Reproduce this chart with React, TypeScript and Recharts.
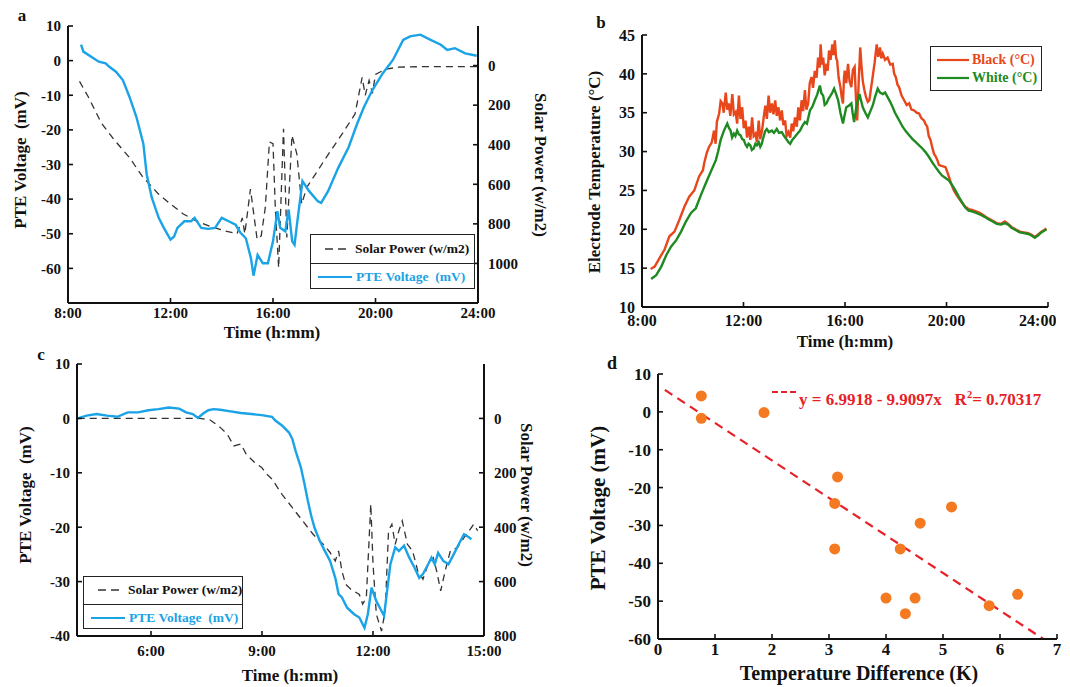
import { ComposedChart, Line, Scatter, XAxis, YAxis } from "recharts";

const SERIF = "'Liberation Serif', 'Times New Roman', serif";
const BLUE = "#1AA3E6";
const DASH = "#333333";
const ORANGE = "#E8471C";
const GREEN = "#1F8A22";
const DOT = "#F47920";
const RED = "#E62228";

// panel a: PTE voltage vs solar power, 8:00 - 24:00
const aPteTime = [8.51, 8.6, 9.2, 9.47, 9.6, 9.87, 10.14, 10.4, 10.67, 10.94, 11.07, 11.27, 11.54, 11.74, 12.0, 12.14, 12.27, 12.54, 12.8, 12.94, 13.2, 13.47, 13.74, 14.0, 14.27, 14.54, 14.74, 14.94, 15.14, 15.24, 15.4, 15.6, 15.8, 16.0, 16.17, 16.28, 16.48, 16.61, 16.75, 16.84, 16.95, 17.15, 17.41, 17.75, 17.88, 18.15, 18.55, 18.95, 19.28, 19.55, 19.88, 20.28, 20.68, 21.08, 21.35, 21.75, 22.15, 22.55, 22.8, 23.1, 23.5, 23.95];
const aPte = [4.6, 2.6, -0.3, -0.8, -1.7, -3.2, -5.6, -10.5, -16.3, -24, -32.8, -39.6, -45.4, -48.3, -51.7, -50.8, -48.3, -46.4, -46.4, -45.4, -48.3, -48.6, -48.3, -45.4, -46.4, -47.4, -49.8, -51.3, -57.1, -62.1, -56.1, -58.5, -58.5, -52.2, -43.5, -48.3, -49.3, -43, -52.2, -53.2, -46.4, -34.8, -37.7, -40.6, -41.1, -37.7, -30.9, -25, -18.3, -13.4, -8.5, -3.7, 0.2, 6, 7, 7.5, 6, 4.6, 3.1, 3.6, 2.1, 1.4];
const aSolarTime = [8.45, 8.8, 9.3, 9.8, 10.4, 10.9, 11.5, 12.0, 12.5, 13.0, 13.6, 14.1, 14.6, 14.8, 14.9, 15.12, 15.25, 15.38, 15.54, 15.7, 15.86, 16.0, 16.09, 16.22, 16.41, 16.54, 16.74, 16.93, 17.12, 17.32, 17.7, 18.15, 18.7, 19.2, 19.48, 19.6, 19.75, 19.88, 20.0, 20.4, 20.9, 22, 24];
const aSolar = [80, 160, 290, 375, 465, 560, 645, 700, 750, 785, 815, 835, 850, 770, 850, 624, 751, 878, 861, 717, 386, 395, 717, 1022, 319, 869, 353, 446, 700, 615, 540, 450, 345, 245, 60, 150, 75, 140, 45, 18, 8, 5, 5];

// panel b: electrode temperatures
const bBlackTime = [8.34, 8.5, 8.69, 8.89, 9.08, 9.28, 9.47, 9.67, 9.86, 10.06, 10.25, 10.4, 10.45, 10.55, 10.64, 10.75, 10.84, 10.9, 10.95, 11.04, 11.1, 11.17, 11.22, 11.3, 11.36, 11.42, 11.48, 11.56, 11.62, 11.69, 11.75, 11.82, 11.88, 11.95, 12.01, 12.08, 12.14, 12.21, 12.27, 12.34, 12.4, 12.47, 12.53, 12.6, 12.66, 12.73, 12.8, 12.86, 12.92, 12.99, 13.05, 13.12, 13.18, 13.25, 13.31, 13.38, 13.44, 13.51, 13.57, 13.64, 13.7, 13.77, 13.84, 13.9, 13.96, 14.03, 14.1, 14.16, 14.22, 14.29, 14.35, 14.42, 14.48, 14.55, 14.61, 14.68, 14.74, 14.81, 14.88, 14.94, 15.0, 15.04, 15.09, 15.14, 15.2, 15.27, 15.32, 15.37, 15.43, 15.5, 15.55, 15.6, 15.65, 15.69, 15.75, 15.82, 15.87, 15.92, 15.96, 15.99, 16.05, 16.12, 16.18, 16.25, 16.31, 16.38, 16.43, 16.48, 16.54, 16.6, 16.65, 16.7, 16.76, 16.83, 16.9, 16.96, 17.02, 17.09, 17.17, 17.25, 17.31, 17.38, 17.43, 17.49, 17.58, 17.68, 17.78, 17.88, 17.94, 18.0, 18.07, 18.13, 18.23, 18.33, 18.43, 18.53, 18.62, 18.72, 18.82, 18.92, 19.01, 19.11, 19.18, 19.24, 19.3, 19.37, 19.44, 19.51, 19.57, 19.64, 19.7, 19.77, 19.87, 19.96, 20.03, 20.09, 20.19, 20.29, 20.38, 20.48, 20.61, 20.74, 20.87, 21.0, 21.17, 21.33, 21.5, 21.65, 21.82, 21.98, 22.15, 22.3, 22.43, 22.56, 22.72, 22.89, 23.05, 23.22, 23.35, 23.48, 23.6, 23.74, 23.85, 23.94];
const bBlack = [14.9, 15.2, 16.3, 17.4, 19.1, 19.7, 21.2, 22.9, 24.2, 25.0, 26.8, 27.6, 28.5, 29.8, 30.6, 31.2, 32.7, 31.0, 33.8, 34.9, 36.5, 36.2, 35.0, 37.6, 35.4, 36.2, 34.6, 37.4, 34.8, 35.1, 33.6, 37.2, 34.2, 35.7, 33.0, 34.0, 31.8, 33.2, 31.5, 34.4, 32.0, 32.3, 31.2, 34.0, 31.6, 32.7, 34.5, 35.9, 34.2, 37.2, 35.0, 36.2, 34.8, 36.6, 34.6, 35.7, 34.0, 35.3, 33.4, 34.0, 32.0, 32.5, 31.8, 33.6, 32.6, 34.4, 33.2, 35.7, 34.0, 36.6, 35.2, 37.9, 35.4, 36.2, 38.8, 39.6, 38.2, 40.4, 39.5, 42.1, 40.8, 43.8, 41.2, 42.1, 39.8, 41.3, 40.4, 43.0, 41.8, 43.8, 42.4, 44.3, 42.0, 41.7, 39.5, 38.3, 37.0, 36.2, 39.5, 40.4, 38.8, 41.3, 39.0, 38.3, 40.5, 40.9, 37.0, 34.0, 39.0, 43.4, 41.0, 39.1, 38.0, 37.0, 36.4, 36.6, 38.0, 39.6, 41.5, 43.8, 42.2, 43.4, 42.0, 42.6, 41.8, 42.1, 41.2, 41.3, 40.0, 39.6, 38.6, 38.3, 37.2, 36.6, 36.0, 36.2, 35.4, 35.3, 35.0, 34.9, 34.3, 34.0, 33.5, 33.2, 32.0, 31.5, 30.5, 29.7, 29.4, 28.9, 28.3, 28.2, 28.1, 28.0, 27.4, 26.8, 25.8, 25.0, 24.5, 24.0, 23.4, 22.9, 22.6, 22.5, 22.3, 22.1, 21.7, 21.4, 21.1, 20.8, 20.7, 21.0, 20.7, 20.3, 20.0, 19.7, 19.6, 19.5, 19.3, 19.0, 19.3, 19.7, 19.9, 20.1];
const bWhiteTime = [8.36, 8.56, 8.76, 8.96, 9.15, 9.35, 9.54, 9.73, 9.93, 10.12, 10.32, 10.51, 10.71, 10.91, 11.0, 11.1, 11.23, 11.36, 11.43, 11.49, 11.55, 11.62, 11.68, 11.75, 11.82, 11.88, 11.95, 12.01, 12.08, 12.14, 12.2, 12.27, 12.33, 12.4, 12.47, 12.53, 12.6, 12.66, 12.72, 12.79, 12.85, 12.92, 13.0, 13.12, 13.2, 13.31, 13.4, 13.51, 13.6, 13.71, 13.77, 13.84, 13.92, 14.03, 14.12, 14.23, 14.32, 14.42, 14.5, 14.62, 14.72, 14.81, 14.9, 15.01, 15.07, 15.14, 15.2, 15.27, 15.35, 15.43, 15.5, 15.57, 15.65, 15.73, 15.82, 15.92, 15.98, 16.05, 16.15, 16.25, 16.3, 16.36, 16.45, 16.57, 16.63, 16.7, 16.8, 16.9, 17.0, 17.09, 17.2, 17.29, 17.38, 17.49, 17.58, 17.68, 17.78, 17.88, 17.97, 18.07, 18.17, 18.27, 18.4, 18.53, 18.66, 18.79, 18.92, 19.05, 19.18, 19.31, 19.44, 19.57, 19.7, 19.83, 19.96, 20.09, 20.22, 20.35, 20.48, 20.61, 20.74, 20.87, 21.0, 21.17, 21.33, 21.5, 21.65, 21.82, 21.98, 22.15, 22.3, 22.43, 22.56, 22.72, 22.89, 23.05, 23.22, 23.35, 23.48, 23.6, 23.74, 23.85, 23.94];
const bWhite = [13.6, 14.1, 15.2, 16.7, 17.8, 18.6, 19.7, 21.0, 22.1, 22.7, 24.4, 25.9, 27.4, 28.9, 30.0, 31.5, 32.7, 33.6, 33.0, 32.7, 31.8, 32.3, 32.0, 32.7, 32.2, 32.1, 31.6, 31.5, 30.9, 30.6, 31.0, 30.8, 30.2, 30.4, 31.0, 30.8, 31.2, 30.6, 31.0, 31.9, 32.6, 32.9, 32.5, 32.7, 32.4, 32.9, 32.4, 32.5, 32.0, 31.5, 31.2, 31.0, 31.5, 31.9, 32.3, 32.7, 33.3, 33.8, 33.6, 35.3, 35.8, 36.6, 37.3, 38.5, 37.5, 37.2, 36.0, 36.2, 36.8, 37.2, 37.6, 38.1, 37.4, 36.6, 35.0, 33.6, 34.6, 35.7, 35.9, 36.2, 35.0, 33.8, 35.8, 37.4, 36.6, 35.7, 35.0, 34.4, 35.2, 35.9, 37.2, 38.1, 37.6, 37.4, 37.6, 37.0, 36.4, 35.7, 35.0, 34.4, 33.8, 33.2, 32.6, 32.1, 31.6, 31.2, 30.8, 30.4, 29.9, 29.3, 28.6, 28.0, 27.4, 26.9, 26.6, 26.3, 25.7, 25.0, 24.2, 23.5, 22.8, 22.4, 22.3, 22.1, 21.9, 21.6, 21.3, 21.0, 20.7, 20.6, 20.8, 20.6, 20.2, 19.9, 19.6, 19.5, 19.4, 19.2, 18.9, 19.2, 19.6, 19.8, 20.0];

// panel c: PTE voltage vs solar power, 4:00 - 15:00
const cPteTime = [4.02, 4.26, 4.53, 4.81, 5.09, 5.37, 5.65, 5.93, 6.2, 6.48, 6.76, 6.95, 7.13, 7.27, 7.41, 7.55, 7.69, 7.87, 8.15, 8.43, 8.71, 8.99, 9.27, 9.36, 9.54, 9.73, 9.82, 9.91, 10.05, 10.15, 10.24, 10.33, 10.42, 10.56, 10.7, 10.84, 10.98, 11.07, 11.16, 11.3, 11.49, 11.63, 11.77, 11.86, 11.96, 12.09, 12.23, 12.3, 12.37, 12.47, 12.6, 12.7, 12.84, 12.98, 13.12, 13.25, 13.35, 13.49, 13.58, 13.67, 13.76, 13.9, 14.04, 14.18, 14.32, 14.46, 14.6, 14.66];
const cPte = [0, 0.5, 0.8, 0.5, 0.3, 1.1, 1.1, 1.5, 1.7, 2.0, 1.8, 1.1, 0.8, 0.1, 0.9, 1.5, 1.7, 1.6, 1.3, 1.0, 0.8, 0.6, 0.3, -0.4, -1.3, -2.6, -3.8, -6.0, -9.0, -12.1, -15.2, -17.9, -20.1, -22.5, -24.4, -26.2, -29.3, -32.3, -32.9, -34.8, -36.0, -36.6, -38.5, -36.0, -31.1, -33.6, -35.4, -36.3, -32.3, -26.8, -23.7, -24.4, -23.4, -25.6, -27.4, -29.3, -28.6, -26.8, -25.6, -26.8, -24.7, -26.2, -26.8, -25.0, -23.1, -21.3, -21.9, -22.2];
const cSolarTime = [4.02, 7.32, 7.6, 7.87, 8.06, 8.24, 8.43, 8.57, 8.8, 8.99, 9.13, 9.27, 9.54, 9.82, 10.1, 10.38, 10.66, 10.84, 10.98, 11.07, 11.16, 11.26, 11.4, 11.63, 11.72, 11.82, 11.94, 12.0, 12.09, 12.23, 12.33, 12.42, 12.51, 12.6, 12.7, 12.79, 12.93, 13.07, 13.21, 13.35, 13.49, 13.63, 13.72, 13.83, 13.95, 14.09, 14.28, 14.46, 14.6, 14.72, 14.83];
const cSolar = [0, 0, 6, 33, 58, 101, 94, 131, 162, 180, 205, 223, 279, 328, 377, 426, 463, 493, 524, 487, 561, 610, 628, 647, 683, 659, 315, 534, 720, 782, 708, 413, 389, 463, 413, 377, 463, 487, 561, 591, 536, 512, 561, 634, 561, 487, 475, 438, 413, 389, 413];

// panel d: PTE voltage vs temperature difference
const dDiff = [0.76, 0.76, 1.86, 3.15, 3.1, 3.1, 5.15, 4.6, 4.25, 4.0, 4.51, 4.34, 5.81, 6.31];
const dPte = [4.2, -1.7, -0.2, -17.2, -24.2, -36.2, -25.1, -29.4, -36.2, -49.2, -49.2, -53.3, -51.2, -48.2];
const fitIntercept = 6.9918;
const fitSlope = -9.9097;
const fitRange = [0.12, 6.76];

const aPteData = aPteTime.map((t, i) => ({ t, v: aPte[i] }));
const aSolarData = aSolarTime.map((t, i) => ({ t, w: aSolar[i] }));
const bBlackData = bBlackTime.map((t, i) => ({ t, v: bBlack[i] }));
const bWhiteData = bWhiteTime.map((t, i) => ({ t, v: bWhite[i] }));
const cPteData = cPteTime.map((t, i) => ({ t, v: cPte[i] }));
const cSolarData = cSolarTime.map((t, i) => ({ t, w: cSolar[i] }));
const dPoints = dDiff.map((x, i) => ({ x, y: dPte[i] }));
const dFit = fitRange.map((x) => ({ x, y: fitIntercept + fitSlope * x }));

const hm = (v: number) => `${v}:00`;
const tickFont = (size: number) => ({ fontFamily: SERIF, fontWeight: 700, fontSize: size, fill: "#111" });
const frame = { stroke: "#111", strokeWidth: 2 };
const tickLn = { stroke: "#111", strokeWidth: 1.6 };

function Txt({ x, y, rot = 0, size = 17, color = "#111", children }: any) {
  return (
    <div
      style={{
        position: "absolute",
        left: x,
        top: y,
        transform: `translate(-50%, -50%) rotate(${rot}deg)`,
        fontFamily: SERIF,
        fontWeight: 700,
        fontSize: size,
        color,
        whiteSpace: "pre",
        lineHeight: 1,
      }}
    >
      {children}
    </div>
  );
}

function Sample({ color, dash, w = 34 }: any) {
  return (
    <svg width={w} height={6} style={{ display: "block", flex: "none" }}>
      <line x1={0} y1={3} x2={w} y2={3} stroke={color} strokeWidth={dash ? 1.4 : 2.2} strokeDasharray={dash} />
    </svg>
  );
}

function DualLegend({ x, y, w, h }: any) {
  const row = { display: "flex", alignItems: "center", height: h / 2, paddingLeft: 7, gap: 4, whiteSpace: "pre" as const };
  return (
    <div style={{ position: "absolute", left: x, top: y, width: w, height: h, border: "1.5px solid #222", background: "#fff", fontFamily: SERIF, fontWeight: 700, fontSize: 13.5, boxSizing: "border-box" }}>
      <div style={{ ...row, borderBottom: "1.5px solid #222", paddingLeft: 14 }}>
        <Sample color={DASH} dash="8 5" w={26} />
        <span style={{ color: "#111" }}>Solar Power (w/m2)</span>
      </div>
      <div style={row}>
        <Sample color={BLUE} w={34} />
        <span style={{ color: BLUE }}>PTE Voltage  (mV)</span>
      </div>
    </div>
  );
}

function DualPanel({ left, top, plotW, plotH, xDomain, xTicks, xMargin, yDomain, yTicks, wDomain, wTicks, pte, solar }: any) {
  return (
    <div style={{ position: "absolute", left, top }}>
      <ComposedChart width={60 + plotW + 60} height={10 + plotH + 40} margin={{ top: 10, right: 0, bottom: 0, left: 0 }}>
        <XAxis xAxisId="b" type="number" dataKey="t" domain={xDomain} ticks={xTicks} tickFormatter={hm} height={40} tickSize={-5} tickMargin={xMargin} axisLine={frame} tickLine={tickLn} tick={tickFont(15)} allowDataOverflow />
        <XAxis xAxisId="top" orientation="top" type="number" dataKey="t" domain={xDomain} ticks={xTicks} height={0} tickSize={-5} tick={false} axisLine={frame} tickLine={tickLn} allowDataOverflow />
        <YAxis yAxisId="l" type="number" domain={yDomain} ticks={yTicks} width={60} tickSize={-5} tickMargin={12} axisLine={frame} tickLine={tickLn} tick={tickFont(15)} allowDataOverflow />
        <YAxis yAxisId="r" orientation="right" type="number" reversed domain={wDomain} ticks={wTicks} width={60} tickSize={-5} tickMargin={15} axisLine={frame} tickLine={tickLn} tick={{ ...tickFont(15), textAnchor: "start" }} allowDataOverflow />
        <Line xAxisId="b" yAxisId="r" data={solar} dataKey="w" stroke={DASH} strokeWidth={1.3} strokeDasharray="7 5" dot={false} isAnimationActive={false} />
        <Line xAxisId="b" yAxisId="l" data={pte} dataKey="v" stroke={BLUE} strokeWidth={2.4} dot={false} isAnimationActive={false} />
      </ComposedChart>
    </div>
  );
}

function TempPanel() {
  return (
    <div style={{ position: "absolute", left: 582, top: 25 }}>
      <ComposedChart width={60 + 406 + 8} height={10 + 272 + 40} margin={{ top: 10, right: 8, bottom: 0, left: 0 }}>
        <XAxis xAxisId="b" type="number" dataKey="t" domain={[8, 24]} ticks={[8, 12, 16, 20, 24]} tickFormatter={hm} height={40} tickSize={-5} tickMargin={13} axisLine={frame} tickLine={tickLn} tick={tickFont(16)} allowDataOverflow />
        <XAxis xAxisId="top" orientation="top" type="number" dataKey="t" domain={[8, 24]} ticks={[8, 12, 16, 20, 24]} height={0} tickSize={-5} tick={false} axisLine={frame} tickLine={tickLn} allowDataOverflow />
        <YAxis yAxisId="l" type="number" domain={[10, 45]} ticks={[10, 15, 20, 25, 30, 35, 40, 45]} width={60} tickSize={-5} tickMargin={12} axisLine={frame} tickLine={tickLn} tick={tickFont(16)} allowDataOverflow />
        <YAxis yAxisId="r" orientation="right" type="number" domain={[10, 45]} ticks={[10, 15, 20, 25, 30, 35, 40, 45]} width={0} tickSize={-5} tick={false} axisLine={frame} tickLine={tickLn} allowDataOverflow />
        <Line xAxisId="b" yAxisId="l" data={bBlackData} dataKey="v" stroke={ORANGE} strokeWidth={2.4} dot={false} isAnimationActive={false} />
        <Line xAxisId="b" yAxisId="l" data={bWhiteData} dataKey="v" stroke={GREEN} strokeWidth={2.4} dot={false} isAnimationActive={false} />
      </ComposedChart>
    </div>
  );
}

function ScatterPanel() {
  const xt = [0, 1, 2, 3, 4, 5, 6, 7];
  const yt = [-60, -50, -40, -30, -20, -10, 0, 10];
  return (
    <div style={{ position: "absolute", left: 598, top: 364 }}>
      <ComposedChart width={60 + 399 + 8} height={10 + 265 + 40} margin={{ top: 10, right: 8, bottom: 0, left: 0 }}>
        <XAxis xAxisId="b" type="number" dataKey="x" domain={[0, 7]} ticks={xt} height={40} tickSize={-5} tickMargin={9} axisLine={frame} tickLine={tickLn} tick={tickFont(17)} allowDataOverflow />
        <XAxis xAxisId="top" orientation="top" type="number" dataKey="x" domain={[0, 7]} ticks={xt} height={0} tickSize={-5} tick={false} axisLine={frame} tickLine={tickLn} allowDataOverflow />
        <YAxis yAxisId="l" type="number" dataKey="y" domain={[-60, 10]} ticks={yt} width={60} tickSize={-5} tickMargin={12} axisLine={frame} tickLine={tickLn} tick={tickFont(17)} allowDataOverflow />
        <YAxis yAxisId="r" orientation="right" type="number" domain={[-60, 10]} ticks={yt} width={0} tickSize={-5} tick={false} axisLine={frame} tickLine={tickLn} allowDataOverflow />
        <Line xAxisId="b" yAxisId="l" data={dFit} dataKey="y" stroke={RED} strokeWidth={2.2} strokeDasharray="9 6" dot={false} isAnimationActive={false} />
        <Scatter xAxisId="b" yAxisId="l" data={dPoints} dataKey="y" fill={DOT} shape={(p: any) => <circle cx={p.cx} cy={p.cy} r={5.5} fill={DOT} />} isAnimationActive={false} />
      </ComposedChart>
    </div>
  );
}

export default function App() {
  return (
    <div style={{ position: "absolute", left: 0, top: 0, width: 1070, height: 687, background: "#fff", overflow: "hidden" }}>
      <DualPanel left={8} top={16} plotW={410} plotH={277} xDomain={[8, 24]} xTicks={[8, 12, 16, 20, 24]} xMargin={9} yDomain={[-70, 10]} yTicks={[-60, -50, -40, -30, -20, -10, 0, 10]} wDomain={[-200, 1200]} wTicks={[0, 200, 400, 600, 800, 1000]} pte={aPteData} solar={aSolarData} />
      <DualLegend x={310} y={234} w={165} h={55} />
      <Txt x={22} y={15} size={17}>a</Txt>
      <Txt x={20} y={160} rot={-90} size={17}>{"PTE Voltage  (mV)"}</Txt>
      <Txt x={540} y={165} rot={90} size={17}>Solar Power (w/m2)</Txt>
      <Txt x={272} y={332} size={17}>Time (h:mm)</Txt>

      <TempPanel />
      <div style={{ position: "absolute", left: 930, top: 46, width: 112, height: 45, border: "1.5px solid #222", boxSizing: "border-box", background: "#fff", fontFamily: SERIF, fontWeight: 700, fontSize: 14, padding: "4px 0 0 6px" }}>
        <div style={{ display: "flex", alignItems: "center", gap: 3, height: 18 }}>
          <Sample color={ORANGE} w={32} />
          <span style={{ color: ORANGE }}>Black (°C)</span>
        </div>
        <div style={{ display: "flex", alignItems: "center", gap: 3, height: 18 }}>
          <Sample color={GREEN} w={32} />
          <span style={{ color: GREEN }}>White (°C)</span>
        </div>
      </div>
      <Txt x={601} y={22} size={17}>b</Txt>
      <Txt x={594} y={172} rot={-90} size={17}>Electrode Temperature (°C)</Txt>
      <Txt x={845} y={341} size={17}>Time (h:mm)</Txt>

      <DualPanel left={17} top={354} plotW={407} plotH={272} xDomain={[4, 15]} xTicks={[6, 9, 12, 15]} xMargin={14} yDomain={[-40, 10]} yTicks={[-40, -30, -20, -10, 0, 10]} wDomain={[-200, 800]} wTicks={[0, 200, 400, 600, 800]} pte={cPteData} solar={cSolarData} />
      <DualLegend x={83} y={576} w={160} h={53} />
      <Txt x={41} y={354} size={17}>c</Txt>
      <Txt x={25} y={495} rot={-90} size={17}>{"PTE Voltage  (mV)"}</Txt>
      <Txt x={526} y={495} rot={90} size={17}>Solar Power (w/m2)</Txt>
      <Txt x={290} y={675} size={17}>Time (h:mm)</Txt>

      <ScatterPanel />
      <div style={{ position: "absolute", left: 772, top: 391, width: 24, borderTop: `2.2px dashed ${RED}` }} />
      <div style={{ position: "absolute", left: 799, top: 390, fontFamily: SERIF, fontWeight: 700, fontSize: 17, color: RED, whiteSpace: "pre", lineHeight: 1 }}>
        {"y = 6.9918 - 9.9097x   R"}
        <sup style={{ fontSize: 10.5 }}>2</sup>
        {"= 0.70317"}
      </div>
      <Txt x={612} y={363} size={18}>d</Txt>
      <Txt x={598} y={508} rot={-90} size={21}>PTE Voltage (mV)</Txt>
      <Txt x={859} y={673} size={20}>Temperature Difference (K)</Txt>
    </div>
  );
}
